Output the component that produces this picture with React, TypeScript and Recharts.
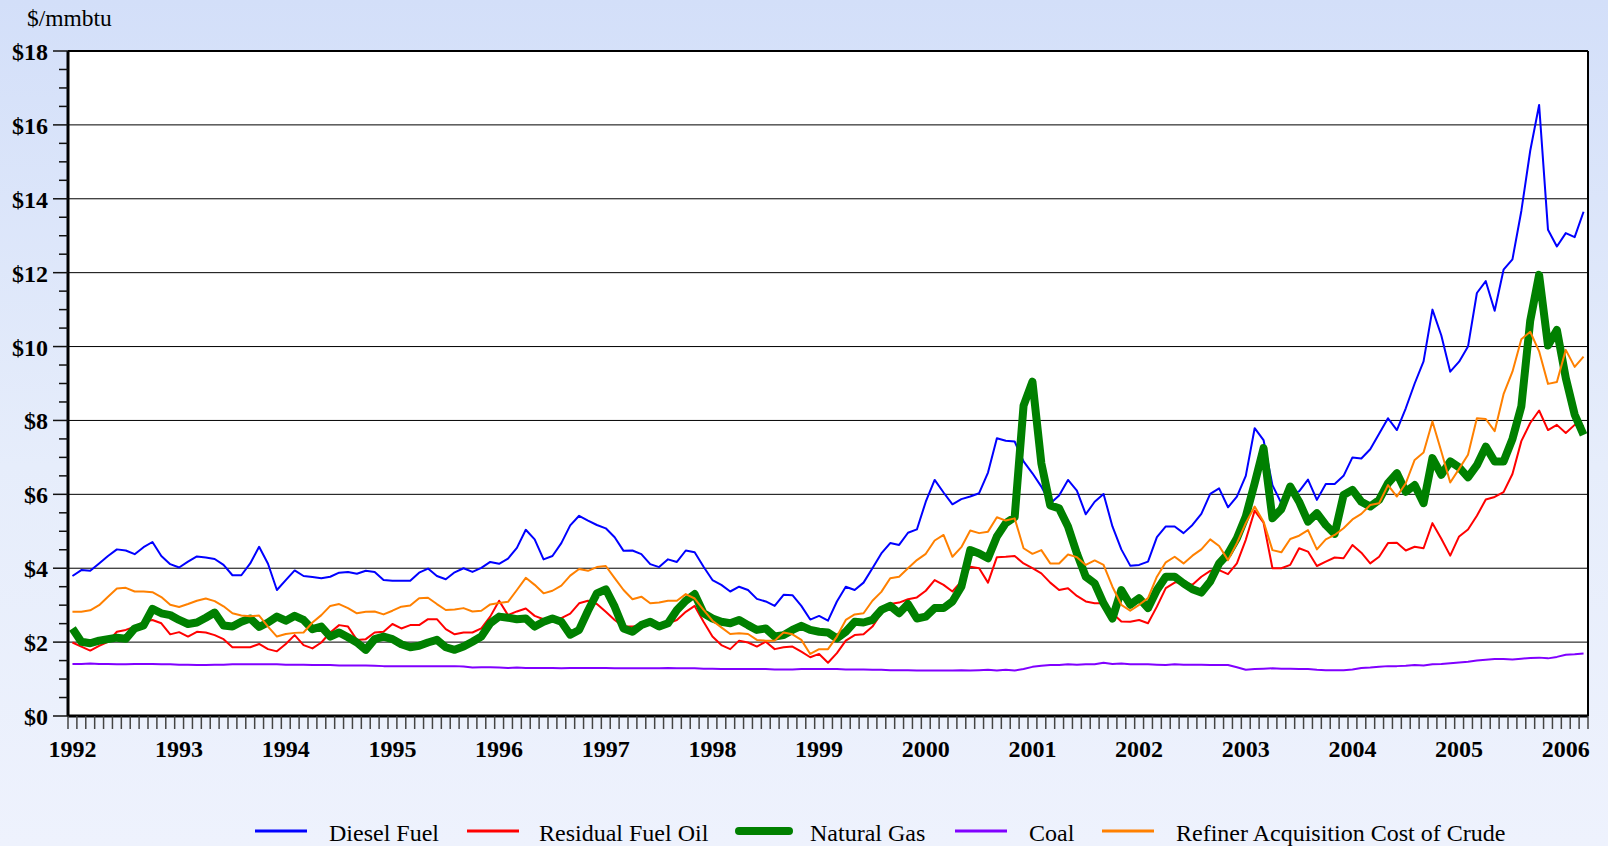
import { CartesianGrid, Legend, Line, LineChart, ReferenceLine, XAxis, YAxis } from 'recharts';

const years = ['1992', '1993', '1994', '1995', '1996', '1997', '1998', '1999', '2000', '2001', '2002', '2003', '2004', '2005', '2006'];
const yLabels = ['$0', '$2', '$4', '$6', '$8', '$10', '$12', '$14', '$16', '$18'];

// monthly $/mmbtu, Jan 1992 - Mar 2006
const diesel = [
    3.79, 3.95, 3.93, 4.13, 4.33, 4.51, 4.48, 4.38, 4.57, 4.71, 4.33, 4.11,
    4.02, 4.18, 4.32, 4.29, 4.25, 4.09, 3.81, 3.81, 4.13, 4.58, 4.12, 3.41,
    3.68, 3.94, 3.79, 3.76, 3.73, 3.77, 3.88, 3.90, 3.85, 3.93, 3.90, 3.68,
    3.66, 3.66, 3.66, 3.88, 3.99, 3.79, 3.70, 3.89, 4.00, 3.90, 4.01, 4.17,
    4.12, 4.26, 4.55, 5.04, 4.78, 4.24, 4.33, 4.68, 5.16, 5.42, 5.29, 5.17,
    5.08, 4.84, 4.47, 4.48, 4.38, 4.11, 4.03, 4.24, 4.17, 4.48, 4.43, 4.04,
    3.68, 3.55, 3.37, 3.50, 3.41, 3.17, 3.10, 2.98, 3.28, 3.27, 2.98, 2.61,
    2.71, 2.58, 3.10, 3.50, 3.41, 3.61, 4.00, 4.40, 4.68, 4.63, 4.96, 5.05,
    5.80, 6.39, 6.05, 5.73, 5.87, 5.94, 6.03, 6.59, 7.52, 7.45, 7.43, 6.89,
    6.57, 6.21, 5.75, 5.97, 6.39, 6.10, 5.46, 5.80, 6.01, 5.13, 4.51, 4.07,
    4.09, 4.18, 4.84, 5.13, 5.13, 4.95, 5.17, 5.47, 6.01, 6.16, 5.65, 5.94,
    6.50, 7.79, 7.47, 6.25, 5.76, 6.00, 6.08, 6.40, 5.85, 6.28, 6.28, 6.50,
    7.00, 6.97, 7.22, 7.64, 8.06, 7.74, 8.33, 9.00, 9.60, 11.00, 10.30, 9.32,
    9.59, 10.00, 11.45, 11.77, 10.97, 12.08, 12.36, 13.67, 15.30, 16.54, 13.16, 12.71,
    13.07, 12.96, 13.65,
];

const residual = [
    1.99, 1.88, 1.77, 1.90, 2.01, 2.28, 2.33, 2.42, 2.55, 2.60, 2.51, 2.21,
    2.27, 2.15, 2.28, 2.26, 2.19, 2.08, 1.86, 1.86, 1.86, 1.95, 1.81, 1.75,
    1.95, 2.19, 1.92, 1.83, 1.99, 2.26, 2.46, 2.42, 2.06, 2.08, 2.26, 2.28,
    2.49, 2.37, 2.46, 2.46, 2.62, 2.62, 2.35, 2.21, 2.26, 2.26, 2.37, 2.69,
    3.12, 2.73, 2.83, 2.91, 2.71, 2.62, 2.64, 2.65, 2.77, 3.05, 3.12, 3.03,
    2.82, 2.60, 2.42, 2.42, 2.44, 2.55, 2.44, 2.51, 2.60, 2.82, 2.98, 2.55,
    2.15, 1.92, 1.81, 2.04, 1.99, 1.88, 2.01, 1.81, 1.86, 1.88, 1.74, 1.59,
    1.68, 1.44, 1.70, 2.04, 2.19, 2.21, 2.42, 2.78, 3.03, 3.07, 3.16, 3.21,
    3.39, 3.68, 3.55, 3.37, 3.64, 4.04, 4.00, 3.61, 4.30, 4.31, 4.33, 4.13,
    4.00, 3.86, 3.61, 3.41, 3.46, 3.25, 3.10, 3.05, 3.05, 2.78, 2.56, 2.55,
    2.60, 2.51, 2.96, 3.46, 3.61, 3.64, 3.55, 3.77, 3.93, 3.95, 3.84, 4.13,
    4.77, 5.56, 5.23, 4.00, 4.00, 4.09, 4.54, 4.45, 4.06, 4.18, 4.29, 4.27,
    4.63, 4.42, 4.13, 4.31, 4.68, 4.69, 4.48, 4.58, 4.54, 5.22, 4.80, 4.34,
    4.86, 5.05, 5.42, 5.86, 5.93, 6.06, 6.55, 7.44, 7.93, 8.27, 7.74, 7.88,
    7.66, 7.88, 7.85,
];

const naturalGas = [
    2.37, 2.01, 1.97, 2.04, 2.08, 2.12, 2.09, 2.37, 2.45, 2.90, 2.78, 2.73,
    2.60, 2.49, 2.53, 2.66, 2.80, 2.45, 2.42, 2.55, 2.64, 2.41, 2.53, 2.69,
    2.58, 2.71, 2.60, 2.35, 2.42, 2.15, 2.26, 2.13, 1.99, 1.79, 2.08, 2.15,
    2.08, 1.94, 1.86, 1.90, 1.99, 2.06, 1.86, 1.79, 1.88, 2.01, 2.15, 2.51,
    2.69, 2.66, 2.62, 2.64, 2.42, 2.55, 2.64, 2.55, 2.20, 2.33, 2.85, 3.32,
    3.43, 2.96, 2.37, 2.28, 2.46, 2.55, 2.42, 2.51, 2.87, 3.12, 3.30, 2.78,
    2.64, 2.55, 2.51, 2.60, 2.46, 2.33, 2.37, 2.15, 2.19, 2.33, 2.44, 2.33,
    2.28, 2.26, 2.10, 2.28, 2.55, 2.53, 2.60, 2.87, 2.98, 2.78, 3.03, 2.64,
    2.69, 2.92, 2.92, 3.10, 3.50, 4.49, 4.40, 4.27, 4.86, 5.22, 5.38, 8.40,
    9.05, 6.84, 5.70, 5.62, 5.13, 4.40, 3.77, 3.59, 3.05, 2.64, 3.41, 3.01,
    3.19, 2.92, 3.41, 3.77, 3.77, 3.59, 3.43, 3.34, 3.64, 4.13, 4.39, 4.81,
    5.40, 6.30, 7.25, 5.35, 5.60, 6.21, 5.80, 5.26, 5.49, 5.17, 4.93, 5.98,
    6.12, 5.80, 5.67, 5.85, 6.30, 6.57, 6.07, 6.25, 5.76, 6.98, 6.53, 6.89,
    6.73, 6.46, 6.79, 7.29, 6.89, 6.89, 7.50, 8.38, 10.70, 11.94, 10.03, 10.45,
    9.15, 8.16, 7.61,
];

const coal = [
    1.41, 1.41, 1.42, 1.41, 1.41, 1.40, 1.40, 1.41, 1.41, 1.41, 1.40, 1.40,
    1.39, 1.39, 1.38, 1.38, 1.39, 1.39, 1.40, 1.40, 1.40, 1.40, 1.40, 1.40,
    1.39, 1.39, 1.39, 1.38, 1.38, 1.38, 1.37, 1.37, 1.37, 1.37, 1.36, 1.35,
    1.35, 1.35, 1.35, 1.35, 1.35, 1.35, 1.35, 1.35, 1.34, 1.31, 1.32, 1.32,
    1.31, 1.30, 1.31, 1.30, 1.30, 1.30, 1.30, 1.29, 1.30, 1.30, 1.30, 1.30,
    1.30, 1.29, 1.29, 1.29, 1.29, 1.29, 1.29, 1.30, 1.29, 1.29, 1.29, 1.28,
    1.28, 1.27, 1.27, 1.27, 1.27, 1.27, 1.27, 1.26, 1.26, 1.26, 1.27, 1.27,
    1.27, 1.27, 1.27, 1.26, 1.26, 1.26, 1.25, 1.25, 1.24, 1.24, 1.24, 1.23,
    1.23, 1.23, 1.23, 1.23, 1.24, 1.23, 1.24, 1.25, 1.23, 1.25, 1.23, 1.27,
    1.33, 1.36, 1.38, 1.38, 1.40, 1.39, 1.40, 1.40, 1.44, 1.41, 1.42, 1.40,
    1.40, 1.40, 1.39, 1.38, 1.40, 1.39, 1.39, 1.39, 1.38, 1.38, 1.38, 1.32,
    1.25, 1.27, 1.28, 1.29, 1.28, 1.28, 1.27, 1.27, 1.25, 1.24, 1.24, 1.24,
    1.26, 1.30, 1.31, 1.33, 1.35, 1.35, 1.36, 1.38, 1.37, 1.40, 1.41, 1.43,
    1.45, 1.47, 1.50, 1.52, 1.54, 1.54, 1.53, 1.55, 1.57, 1.58, 1.56, 1.60,
    1.66, 1.67, 1.69,
];

const refinerCrude = [
    2.82, 2.82, 2.86, 3.00, 3.23, 3.45, 3.47, 3.37, 3.37, 3.35, 3.22, 3.01,
    2.95, 3.03, 3.12, 3.18, 3.11, 2.97, 2.78, 2.72, 2.70, 2.72, 2.42, 2.15,
    2.22, 2.25, 2.26, 2.53, 2.73, 2.98, 3.03, 2.92, 2.78, 2.82, 2.83, 2.75,
    2.85, 2.96, 2.99, 3.19, 3.20, 3.03, 2.87, 2.88, 2.92, 2.83, 2.85, 3.02,
    3.06, 3.09, 3.41, 3.74, 3.55, 3.32, 3.39, 3.53, 3.80, 3.98, 3.93, 4.03,
    4.06, 3.73, 3.41, 3.16, 3.23, 3.05, 3.07, 3.12, 3.12, 3.30, 3.18, 2.87,
    2.58, 2.40, 2.22, 2.24, 2.22, 2.06, 2.04, 2.04, 2.26, 2.21, 2.06, 1.68,
    1.81, 1.81, 2.15, 2.60, 2.75, 2.78, 3.12, 3.36, 3.73, 3.77, 4.00, 4.22,
    4.39, 4.75, 4.90, 4.31, 4.57, 5.02, 4.95, 4.99, 5.38, 5.29, 5.35, 4.54,
    4.39, 4.49, 4.13, 4.13, 4.37, 4.30, 4.09, 4.21, 4.09, 3.50, 3.01, 2.85,
    3.01, 3.19, 3.77, 4.16, 4.31, 4.13, 4.34, 4.51, 4.78, 4.60, 4.22, 4.68,
    5.22, 5.67, 5.26, 4.49, 4.43, 4.79, 4.88, 5.03, 4.51, 4.78, 4.90, 5.08,
    5.32, 5.47, 5.71, 5.76, 6.25, 5.94, 6.30, 6.93, 7.13, 7.97, 7.16, 6.32,
    6.69, 7.07, 8.06, 8.04, 7.71, 8.71, 9.32, 10.20, 10.40, 9.87, 8.99, 9.04,
    9.91, 9.45, 9.73,
];

const seriesNames = ['Diesel Fuel', 'Residual Fuel Oil', 'Natural Gas', 'Coal', 'Refiner Acquisition Cost of Crude'];

const W = 1608;
const H = 846;
const PLOT_LEFT = 68;
const PLOT_RIGHT = 1588;
const FONT = '"Liberation Serif", "Times New Roman", serif';

const MONTHS = diesel.length;
const MONTH_PX = (PLOT_RIGHT - PLOT_LEFT) / MONTHS;
const xTicks = Array.from({length: MONTHS + 1}, (_, k) => k - 0.5);
const yTicks = Array.from({length: 37}, (_, k) => k * 0.5);
const gridValues = [2, 4, 6, 8, 10, 12, 14, 16];

const data = diesel.map((v, i) => ({
    i,
    diesel: v,
    residual: residual[i],
    gas: naturalGas[i],
    coal: coal[i],
    crude: refinerCrude[i],
}));

const series = [
    {key: 'diesel', name: seriesNames[0], color: '#0000ff', width: 2},
    {key: 'residual', name: seriesNames[1], color: '#ff0000', width: 2},
    {key: 'gas', name: seriesNames[2], color: '#008000', width: 8},
    {key: 'coal', name: seriesNames[3], color: '#8000ff', width: 2},
    {key: 'crude', name: seriesNames[4], color: '#ff8000', width: 2},
];

// legend layout: icon start/end and text start, in page pixels
const legendPos = [
    {x1: 255, x2: 307, tx: 329},
    {x1: 467, x2: 519, tx: 539},
    {x1: 739, x2: 789, tx: 810},
    {x1: 955, x2: 1007, tx: 1029},
    {x1: 1102, x2: 1154, tx: 1176},
];

const XTick = (props: any) => {
    const {x, y, payload} = props;
    const m = payload.value + 0.5;
    const isYear = m % 12 === 0 && m / 12 < years.length;
    return (
        <g>
            <line x1={x} x2={x} y1={y} y2={y + 13} stroke="#444" strokeWidth={1.5}/>
            {isYear && (
                <text x={x + MONTH_PX / 2} y={y + 40.5} textAnchor="middle" fontFamily={FONT}
                      fontWeight="bold" fontSize={24} fill="#000">
                    {years[m / 12]}
                </text>
            )}
        </g>
    );
};

const YTick = (props: any) => {
    const {x, y, payload} = props;
    const v = payload.value;
    const major = v % 2 === 0;
    return (
        <g>
            <line x1={x - (major ? 15 : 9)} x2={x} y1={y} y2={y} stroke="#111" strokeWidth={1.5}/>
            {major && (
                <text x={x - 20} y={y + 9} textAnchor="end" fontFamily={FONT}
                      fontWeight="bold" fontSize={24} fill="#000">
                    {yLabels[v / 2]}
                </text>
            )}
        </g>
    );
};

const renderLegend = () => (
    <svg width={W} height={40} style={{display: 'block'}}>
        {series.map((s, idx) => (
            <g key={s.key}>
                <line x1={legendPos[idx].x1} x2={legendPos[idx].x2} y1={25} y2={25} stroke={s.color}
                      strokeWidth={s.key === 'gas' ? 8 : 3} strokeLinecap={s.key === 'gas' ? 'round' : 'butt'}/>
                <text x={legendPos[idx].tx} y={34.5} fontFamily={FONT} fontSize={24} fill="#000">{s.name}</text>
            </g>
        ))}
    </svg>
);

const App = () => {
    return (
        <div style={{
            position: 'absolute', left: 0, top: 0, width: W, height: H,
            background: 'linear-gradient(180deg, #d3dff9 0%, #e6edfb 55%, #eef2fd 100%)',
        }}>
            <div style={{
                position: 'absolute', left: 27, top: 6, fontFamily: FONT, fontSize: 23.5,
                lineHeight: '24px', color: '#000',
            }}>
                $/mmbtu
            </div>
            <LineChart width={W} height={H} data={data} margin={{top: 51, right: W - PLOT_RIGHT, left: 0, bottom: 0}}>
                <CartesianGrid fill="#fff" horizontal={false} vertical={false}/>
                <XAxis type="number" dataKey="i" domain={[-0.5, MONTHS - 0.5]} ticks={xTicks} interval={0}
                       tick={(p: any) => <XTick {...p}/>} tickLine={false} tickSize={0} tickMargin={0}
                       height={90} axisLine={{stroke: '#000', strokeWidth: 3}} allowDataOverflow/>
                <YAxis type="number" domain={[0, 18]} ticks={yTicks} interval={0}
                       tick={(p: any) => <YTick {...p}/>} tickLine={false} tickSize={0} tickMargin={0}
                       width={PLOT_LEFT} axisLine={{stroke: '#000', strokeWidth: 3}}/>
                {gridValues.map((v) => (
                    <ReferenceLine key={v} y={v} stroke="#000" strokeWidth={1}/>
                ))}
                <ReferenceLine y={18} stroke="#000" strokeWidth={2}/>
                <ReferenceLine x={MONTHS - 0.5} stroke="#000" strokeWidth={2}/>
                {series.map((s) => (
                    <Line key={s.key} type="linear" dataKey={s.key} name={s.name} stroke={s.color}
                          strokeWidth={s.width} dot={false} strokeLinejoin="round"
                          isAnimationActive={false}/>
                ))}
                <Legend verticalAlign="bottom" align="left" content={renderLegend}
                        wrapperStyle={{left: 0, bottom: 0, width: W, height: 40}}/>
            </LineChart>
        </div>
    );
};

export default App;
